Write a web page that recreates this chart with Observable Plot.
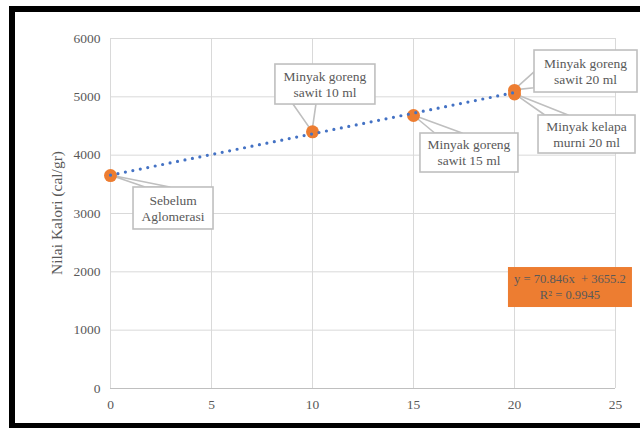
<!DOCTYPE html>
<html><head><meta charset="utf-8">
<script src="https://cdn.jsdelivr.net/npm/d3@7"></script>
<script src="https://cdn.jsdelivr.net/npm/@observablehq/plot@0.6"></script>
<style>
html,body{margin:0;padding:0;background:#fff;}
#wrap{position:relative;width:640px;height:428px;overflow:hidden;}
#border{position:absolute;left:9px;top:6px;width:700px;height:411px;border:6px solid #000;pointer-events:none;}
svg{display:block;}
</style></head><body><div id="wrap"><div id="border"></div></div>
<script>
// ---- data ----
const conditions = ["Sebelum\nAglomerasi", "Minyak goreng\nsawit 10 ml", "Minyak goreng\nsawit 15 ml", "Minyak goreng\nsawit 20 ml", "Minyak kelapa\nmurni 20 ml"];
const volumes = [0, 10, 15, 20, 20];
const calories = [3650, 4400, 4680, 5110, 5050];
const xTicks = [0, 5, 10, 15, 20, 25];
const yTicks = [0, 1000, 2000, 3000, 4000, 5000, 6000];
const yLabel = "Nilai Kalori (cal/gr)";
const trendText = ["y = 70.846x  + 3655.2", "R\u00b2 = 0.9945"];

// ---- annotation layout (box centre in data units, box size, pointer base) ----
const callouts = [
  {i: 0, cx: 3.12, cy: 3086, w: 80, h: 42, side: "top", a: 0.15, b: 0.46},
  {i: 1, cx: 10.64, cy: 5211, w: 100, h: 40, side: "bottom", a: 0.18, b: 0.41},
  {i: 2, cx: 17.77, cy: 4037, w: 98, h: 39, side: "top", a: 0.15, b: 0.43},
  {i: 3, cx: 23.54, cy: 5434, w: 103, h: 42, side: "left", a: 0.52, b: 0.9},
  {i: 4, cx: 23.59, cy: 4354, w: 97, h: 38, side: "top", a: 0.07, b: 0.31}
];
const eqBox = {cx: 22.77, cy: 1731, w: 124, h: 40};

const data = volumes.map((v, i) => ({volume: v, calorie: calories[i], label: conditions[i]}));
const serif = "'Liberation Serif','Times New Roman',serif";
const grey = "#595959";

const plot = Plot.plot({
  width: 640, height: 428,
  marginLeft: 110, marginRight: 25, marginTop: 38, marginBottom: 40,
  style: {fontFamily: serif, fontSize: "13.5px", color: grey, background: "transparent"},
  x: {domain: [0, 25]},
  y: {domain: [0, 6000]},
  marks: [
    Plot.gridX(xTicks, {stroke: "#d9d9d9", strokeOpacity: 1}),
    Plot.gridY(yTicks, {stroke: "#d9d9d9", strokeOpacity: 1}),
    Plot.ruleY([0], {stroke: "#bfbfbf", strokeWidth: 1.2}),
    Plot.axisX(xTicks, {tickSize: 0, tickPadding: 11, label: null, tickFormat: d => String(d)}),
    Plot.axisY(yTicks, {tickSize: 0, tickPadding: 10, label: null, tickFormat: d => String(d)}),
    Plot.dot(data, {x: "volume", y: "calorie", r: 6.5, fill: "#ED7D31", stroke: "none"}),
    Plot.linearRegressionY(data, {x: "volume", y: "calorie", ci: 0, stroke: "#4472C4", strokeWidth: 3.2, strokeDasharray: "0 7.6", strokeLinecap: "round"})
  ]
});
document.getElementById("wrap").appendChild(plot);

const xs = plot.scale("x"), ys = plot.scale("y");
const svg = d3.select(plot);

// y axis title
const yr = ys.range;
svg.append("text")
  .attr("transform", `translate(${xs.range[0] - 53},${(yr[0] + yr[1]) / 2}) rotate(-90)`)
  .attr("text-anchor", "middle")
  .attr("dy", "0.35em")
  .attr("font-family", serif).attr("font-size", 15.5).attr("fill", grey)
  .text(yLabel);

// pointers (behind the markers)
const pointerLayer = svg.insert("g", "g[aria-label='dot']");
const boxLayer = svg.append("g");

function addBox(layer, cxp, cyp, w, h, lines, fill, stroke, fs) {
  layer.append("rect")
    .attr("x", cxp - w / 2).attr("y", cyp - h / 2).attr("width", w).attr("height", h)
    .attr("fill", fill).attr("stroke", stroke || "none").attr("stroke-width", 1.6);
  const t = layer.append("text")
    .attr("text-anchor", "middle").attr("font-family", serif).attr("font-size", fs)
    .attr("fill", grey).style("white-space", "pre");
  const lh = 16;
  lines.forEach((ln, k) => {
    t.append("tspan").attr("x", cxp)
      .attr("y", cyp - (lines.length - 1) * lh / 2 + k * lh)
      .attr("dy", "0.35em").text(ln);
  });
}

callouts.forEach(c => {
  const d = data[c.i];
  const px = xs.apply(d.volume), py = ys.apply(d.calorie);
  const cxp = xs.apply(c.cx), cyp = ys.apply(c.cy);
  const x0 = cxp - c.w / 2, y0 = cyp - c.h / 2;
  let p1, p2;
  if (c.side === "top") { p1 = [x0 + c.a * c.w, y0]; p2 = [x0 + c.b * c.w, y0]; }
  else if (c.side === "bottom") { p1 = [x0 + c.a * c.w, y0 + c.h]; p2 = [x0 + c.b * c.w, y0 + c.h]; }
  else { p1 = [x0, y0 + c.a * c.h]; p2 = [x0, y0 + c.b * c.h]; }
  pointerLayer.append("path")
    .attr("d", `M${p1[0]},${p1[1]}L${px},${py}L${p2[0]},${p2[1]}Z`)
    .attr("fill", "#fff").attr("stroke", "#bfbfbf").attr("stroke-width", 1.6).attr("stroke-linejoin", "round");
  addBox(boxLayer, cxp, cyp, c.w, c.h, d.label.split("\n"), "#fff", "#bfbfbf", 13.5);
});

addBox(boxLayer, xs.apply(eqBox.cx), ys.apply(eqBox.cy), eqBox.w, eqBox.h, trendText, "#ED7D31", null, 12.6);
</script></body></html>
